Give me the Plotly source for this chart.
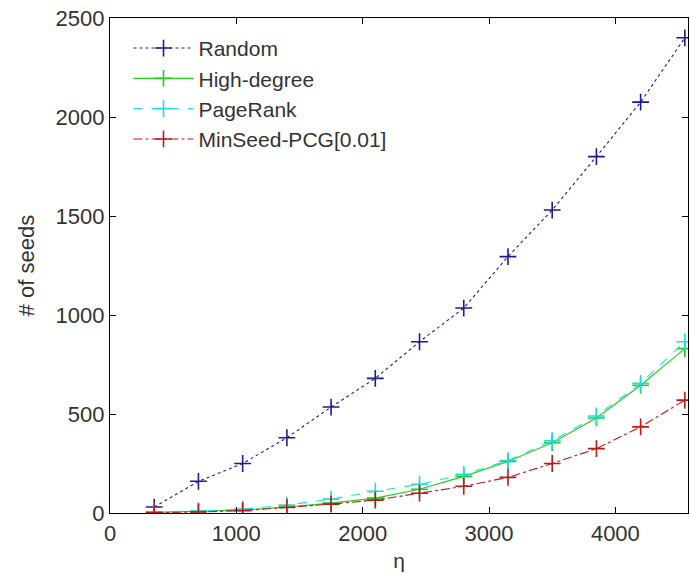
import plotly.graph_objects as go

eta = [350, 700, 1050, 1400, 1750, 2100, 2450, 2800, 3150, 3500, 3850, 4200, 4550]
random_seeds = [30, 160, 250, 380, 535, 680, 865, 1035, 1295, 1530, 1800, 2075, 2400]
high_degree = [3, 8, 15, 30, 50, 75, 120, 185, 260, 355, 480, 645, 830]
pagerank = [5, 10, 20, 40, 70, 110, 145, 195, 265, 365, 490, 655, 865]
minseed = [2, 5, 12, 28, 45, 65, 100, 135, 180, 250, 325, 435, 570]

x_ticks = [0, 1000, 2000, 3000, 4000]
y_ticks = [0, 500, 1000, 1500, 2000, 2500]

series = [
    ("Random", random_seeds, "#1c1c8c", "dot"),
    ("High-degree", high_degree, "#22cc22", "solid"),
    ("PageRank", pagerank, "#22dddd", "dash"),
    ("MinSeed-PCG[0.01]", minseed, "#c01818", "dashdot"),
]

fig = go.Figure()
for name, ys, color, dash in series:
    fig.add_trace(go.Scatter(
        x=eta, y=ys, name=name, mode="lines+markers",
        line=dict(color=color, width=1.1, dash=dash),
        marker=dict(symbol="cross-thin", size=12, color=color,
                    line=dict(color=color, width=1.6)),
    ))

font = "Liberation Sans, Arial, sans-serif"
fig.update_layout(
    width=690, height=574,
    margin=dict(l=110, r=2, t=18, b=61),
    paper_bgcolor="white", plot_bgcolor="white",
    font=dict(family=font, size=22, color="#333333"),
    showlegend=True,
    legend=dict(x=0.032, y=0.98, xanchor="left", yanchor="top",
                bgcolor="rgba(255,255,255,0)", borderwidth=0,
                font=dict(size=21, family=font, color="#333333"),
                itemwidth=60, tracegroupgap=0),
    xaxis=dict(range=[0, 4575], tickvals=x_ticks, ticks="inside", ticklen=6,
               showline=True, linecolor="black", linewidth=1.2, mirror="ticks",
               showgrid=False, zeroline=False, tickcolor="black",
               title=dict(text="η", standoff=8, font=dict(size=21))),
    yaxis=dict(range=[0, 2500], tickvals=y_ticks, ticks="inside", ticklen=6,
               showline=True, linecolor="black", linewidth=1.2, mirror="ticks",
               showgrid=False, zeroline=False, tickcolor="black",
               title=dict(text="# of seeds", standoff=14, font=dict(size=22))),
)

fig.write_html("out.html")
